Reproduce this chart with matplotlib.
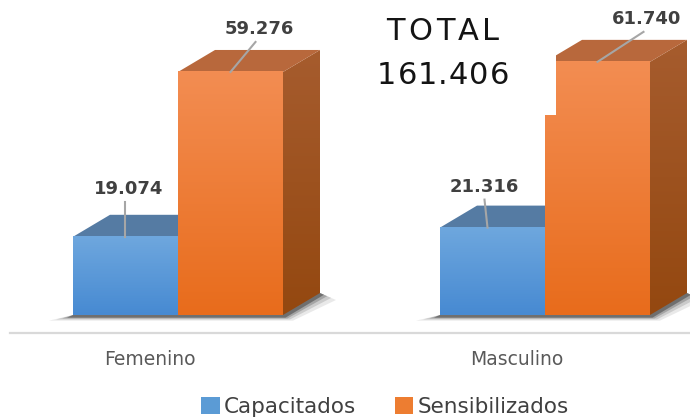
import numpy as np
import matplotlib
matplotlib.use("Agg")
import matplotlib.pyplot as plt
from matplotlib.patches import Polygon, Rectangle, Patch
from matplotlib.colors import LinearSegmentedColormap

# ---- data ----
categories = ["Femenino", "Masculino"]
capacitados = [19.074, 21.316]
sensibilizados = [59.276, 61.740]
series_names = ["Capacitados", "Sensibilizados"]
total_label = ["TOTAL", "161.406"]

W, H = 690, 419
fig = plt.figure(figsize=(W / 100, H / 100), dpi=100)
ax = fig.add_axes([0, 0, 1, 1])
ax.set_axis_off()

# pixel <-> data mapping (style only)
PX_PER_X = 367.0
PX_PER_V = 4.1
X0_PX = 178.0
BASE_PX = 315.0
def X(px):
    return (px - X0_PX) / PX_PER_X
def V(py):
    return (BASE_PX - py) / PX_PER_V

xlim = (X(0), X(W))
ylim = (V(H), V(0))

bar_w = 105 / PX_PER_X
dx = 37 / PX_PER_X
dv = 22 / PX_PER_V

styles = {
    "Capacitados": dict(front=("#6ea7de", "#478ad2"), top="#557ba3", side=("#3f6a99", "#2f5a88"), legend="#5b9bd5"),
    "Sensibilizados": dict(front=("#f38d52", "#e86c1c"), top="#b8683c", side=("#a65c2e", "#944810"), legend="#ed7d31"),
}

def grad_fill(x0, x1, y0, y1, c_top, c_bot, clip=None, z=2):
    cmap = LinearSegmentedColormap.from_list("g", [c_bot, c_top])
    arr = np.linspace(0, 1, 100).reshape(-1, 1)
    im = ax.imshow(arr, extent=[x0, x1, y0, y1], origin="lower", cmap=cmap,
                   aspect="auto", zorder=z, interpolation="bilinear")
    if clip is not None:
        im.set_clip_path(clip)
    return im

def shadow(x0, x1):
    # soft floor shadow
    for k, a in zip([1.0, 0.7, 0.45, 0.25], [0.10, 0.16, 0.25, 0.45]):
        pts = [(x0 - 24 * k / PX_PER_X, -4.0 * k / PX_PER_V - 0.4),
               (x1 + 10 * k / PX_PER_X, -4.0 * k / PX_PER_V - 0.4),
               (x1 + dx + 16 * k / PX_PER_X, dv - 7 * k / PX_PER_V),
               (x1 + dx, dv), (x0 + dx, dv), (x0, 0)]
        ax.add_patch(Polygon(pts, closed=True, facecolor="#303030", alpha=a,
                             edgecolor="none", zorder=1))

def bar3d(x0, x1, v, st, z):
    side = Polygon([(x1, 0), (x1, v), (x1 + dx, v + dv), (x1 + dx, dv)], closed=True,
                   facecolor="none", edgecolor="none", zorder=z)
    ax.add_patch(side)
    grad_fill(x1, x1 + dx, 0, v + dv, st["side"][0], st["side"][1], clip=side, z=z)
    ax.add_patch(Polygon([(x0, v), (x1, v), (x1 + dx, v + dv), (x0 + dx, v + dv)],
                         closed=True, facecolor=st["top"], edgecolor="none", zorder=z))
    grad_fill(x0, x1, 0, v, st["front"][0], st["front"][1], z=z + 0.1)

# floor line
ax.plot([X(10), X(W)], [V(333), V(333)], color="#d9d9d9", lw=1.6, zorder=0)

for i, cat in enumerate(categories):
    shadow(i - bar_w, i + bar_w)
    bar3d(i - bar_w, i, capacitados[i], styles["Capacitados"], 2)
    bar3d(i, i + bar_w, sensibilizados[i], styles["Sensibilizados"], 3)
    ax.text(i - 28 / PX_PER_X, V(359), cat, ha="center", va="center",
            fontsize=13.5, color="#595959")

# value labels with leader lines
lab_kw = dict(ha="center", va="center", fontsize=13, fontweight="bold", color="#404040", zorder=6)
lead_kw = dict(color="#a6a6a6", lw=1.5, zorder=5)
blue_off = [(3, 48, -1, -1), (-8, 41, -8, -5)]
orange_off = [(29, 43, 25, 0), (49, 43, 46, 0)]
for i in range(len(categories)):
    for vals, x_c, offs in [(capacitados, i - bar_w / 2, blue_off[i]),
                            (sensibilizados, i + bar_w / 2, orange_off[i])]:
        v = vals[i]
        ldx, ldv, s_dx, e_dx = offs
        ax.text(x_c + ldx / PX_PER_X, v + ldv / PX_PER_V, f"{v:.3f}", **lab_kw)
        ax.plot([x_c + s_dx / PX_PER_X, x_c + e_dx / PX_PER_X],
                [v + (ldv - 13) / PX_PER_V, v], **lead_kw)

# TOTAL box
ax.add_patch(Rectangle((X(365), V(115)), X(556) - X(365), V(0) - V(115),
                       facecolor="white", edgecolor="none", zorder=8))

ax.set_xlim(*xlim)
ax.set_ylim(*ylim)

renderer = fig.canvas.get_renderer()
def spaced_text(s, cx, cy, size, spacing):
    widths = []
    for ch in s:
        t = fig.text(0, 0, ch, fontsize=size)
        widths.append(t.get_window_extent(renderer).width)
        t.remove()
    total = sum(widths) + spacing * (len(s) - 1)
    x = cx - total / 2
    for ch, w in zip(s, widths):
        fig.text(x / W, 1 - cy / H, ch, ha="left", va="center", fontsize=size,
                 color="#141414")
        x += w + spacing

spaced_text(total_label[0], 443, 31, 22, 3.5)
spaced_text(total_label[1], 443, 75, 22, 1.0)

handles = [Patch(facecolor=styles[n]["legend"], edgecolor="none") for n in series_names]
fig.legend(handles, series_names, loc="center", bbox_to_anchor=(385 / W, 1 - 407 / H),
           ncol=2, frameon=False, fontsize=15.5, handlelength=0.85, handleheight=0.85,
           handletextpad=0.2, columnspacing=1.8, labelcolor="#404040")

fig.savefig("out.png", dpi=100)
